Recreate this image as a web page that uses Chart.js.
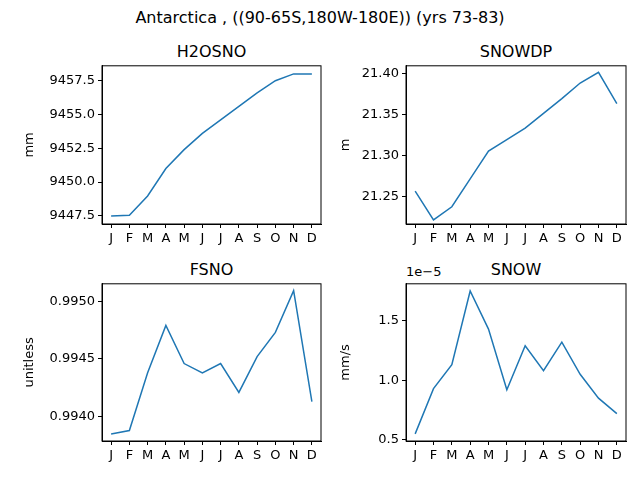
<!DOCTYPE html>
<html><head><meta charset="utf-8">
<script src="https://cdn.jsdelivr.net/npm/chart.js@4"></script>
<style>
body{margin:0;width:640px;height:480px;background:#fff;position:relative;font-family:"DejaVu Sans",sans-serif;overflow:hidden}
canvas{position:absolute}
.t{position:absolute;font-size:16px;color:#000;text-align:center;white-space:nowrap}
</style></head><body>
<div class="t" style="left:0;width:640px;top:8px">Antarctica , ((90-65S,180W-180E)) (yrs 73-83)</div>
<div class="t" style="left:102px;width:219px;top:42px">H2OSNO</div>
<div class="t" style="left:406px;width:220px;top:42px">SNOWDP</div>
<div class="t" style="left:102px;width:219px;top:260px">FSNO</div>
<div class="t" style="left:406px;width:220px;top:260px">SNOW</div>
<div class="t" style="left:406px;top:264px;font-size:13px;text-align:left">1e−5</div>
<canvas id="c1"></canvas><canvas id="c2"></canvas><canvas id="c3"></canvas><canvas id="c4"></canvas>
<script>
const months = ['J','F','M','A','M','J','J','A','S','O','N','D'];
const h2osno = [9447.5,9447.55,9448.97,9451.0,9452.4,9453.6,9454.6,9455.6,9456.6,9457.5,9458.0,9458.0];
const snowdp = [21.257,21.222,21.238,21.272,21.306,21.32,21.334,21.352,21.37,21.389,21.402,21.364];
const fsno = [0.99385,0.99388,0.99438,0.99479,0.99446,0.99438,0.99446,0.99421,0.99452,0.99473,0.99509,0.99413];
const snow = [0.55e-5,0.93e-5,1.13e-5,1.75e-5,1.43e-5,0.92e-5,1.29e-5,1.08e-5,1.32e-5,1.05e-5,0.85e-5,0.72e-5];
const h2osnoTicks = [9447.5,9450.0,9452.5,9455.0,9457.5];
const snowdpTicks = [21.25,21.30,21.35,21.40];
const fsnoTicks = [0.9940,0.9945,0.9950];
const snowTicks = [0.5e-5,1.0e-5,1.5e-5];

const boxPlugin = {id:'box', afterDraw(c){const a=c.chartArea,x=c.ctx;x.save();x.strokeStyle='#000';x.lineWidth=1;x.strokeRect(a.left,a.top,a.right-a.left,a.bottom-a.top);x.restore();}};

function make(id, left, top, w, h, yw, data, ymin, ymax, ticks, fmt, unit){
  const cv = document.getElementById(id);
  cv.style.left = left+'px'; cv.style.top = top+'px';
  cv.style.width = w+'px'; cv.style.height = h+'px';
  new Chart(cv, {
    type:'line',
    data:{labels:months, datasets:[{data:data, borderColor:'#1f77b4', borderWidth:1.5, pointRadius:0, tension:0, fill:false}]},
    options:{responsive:false, animation:false, devicePixelRatio:1,
      layout:{padding:{top:0,right:5,left:0,bottom:0}},
      plugins:{legend:{display:false},tooltip:{enabled:false}},
      scales:{
        x:{offset:true, grid:{display:true,drawOnChartArea:false,tickLength:4,color:'#000'}, border:{color:'#000'},
           ticks:{color:'#000',font:{family:'DejaVu Sans',size:13},maxRotation:0,autoSkip:false},
           afterFit(s){s.height=26;}},
        y:{min:ymin,max:ymax, grid:{display:true,drawOnChartArea:false,tickLength:4,color:'#000'}, border:{color:'#000'},
           afterBuildTicks(s){s.ticks=ticks.map(v=>({value:v}));},
           ticks:{color:'#000',font:{family:'DejaVu Sans',size:13},callback:v=>fmt(v)},
           title:{display:true,text:unit,color:'#000',font:{family:'DejaVu Sans',size:13},padding:2},
           afterFit(s){s.width=yw;}}
      }
    },
    plugins:[boxPlugin]
  });
}
// chart areas: x 102-321 / 406-626, y 65-224 / 283-441
make('c1',20,55,306,195,82,h2osno,9446.9,9458.6,h2osnoTicks,v=>v.toFixed(1),'mm');
make('c2',336,55,295,195,70,snowdp,21.217,21.41,snowdpTicks,v=>v.toFixed(2),'m');
make('c3',20,273,306,194,82,fsno,0.99379,0.99515,fsnoTicks,v=>v.toFixed(4),'unitless');
make('c4',336,273,295,194,70,snow,0.49e-5,1.81e-5,snowTicks,v=>(v*1e5).toFixed(1),'mm/s');
</script></body></html>
